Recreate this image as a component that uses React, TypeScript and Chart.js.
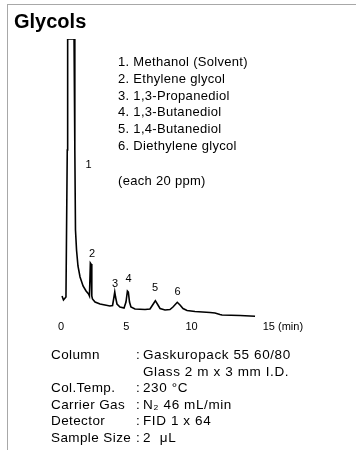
import React, { useEffect, useRef } from "react";
import { Chart, registerables } from "chart.js";

Chart.register(...registerables);

// Retention time (min) and detector signal (arbitrary units)
const timeMin = [
  0.08, 0.19, 0.38, 0.48, 0.51, 1.0, 1.06, 1.11, 1.19, 1.3, 1.46, 1.69, 1.92, 2.11, 2.18,
  2.25, 2.3, 2.36, 2.41, 2.61, 2.99, 3.37, 3.75, 3.95, 4.06, 4.12, 4.18, 4.29, 4.52, 4.83,
  4.98, 5.09, 5.16, 5.25, 5.36, 5.67, 6.44, 6.82, 6.97, 7.23, 7.43, 7.59, 7.97, 8.35, 8.58,
  8.91, 9.12, 9.35, 9.66, 10.27, 11.42, 11.8, 12.18, 12.34, 13.72, 14.87,
];
const signal = [
  24, 20, 23, 170, 281, 281, 170, 90, 70, 54, 43, 34, 29, 26, 24,
  57, 56, 24, 21, 18, 16, 15, 14, 14.5, 23, 28, 23, 16, 13, 12,
  18, 29, 28, 18, 13, 11, 10.5, 11, 14, 19.3, 15, 11.5, 10, 10.5, 13,
  17.7, 15, 11.5, 9.5, 8.5, 7.5, 7, 5.5, 5, 4.5, 3.7,
];

const peakNumbers = ["1", "2", "3", "4", "5", "6"];
const peakLabelTime = [2.12, 2.38, 4.14, 5.17, 7.2, 8.93];
const peakLabelSignal = [155, 66, 36, 41, 32, 28];

const compoundNames = [
  "1. Methanol (Solvent)",
  "2. Ethylene glycol",
  "3. 1,3-Propanediol",
  "4. 1,3-Butanediol",
  "5. 1,4-Butanediol",
  "6. Diethylene glycol",
];
const concentrationNote = "(each 20 ppm)";

const xTickValues = [0, 5, 10, 15];
const xTickLabels = ["0", "5", "10", "15 (min)"];

const conditionLabels = ["Column", "", "Col.Temp.", "Carrier Gas", "Detector", "Sample Size"];
const conditionColons = [":", "", ":", ":", ":", ":"];
const conditionValues = [
  "Gaskuropack 55 60/80",
  "Glass 2 m x 3 mm I.D.",
  "230 °C",
  "N₂ 46 mL/min",
  "FID 1 x 64",
  "2  μL",
];

const FONT = "'Liberation Sans', Arial, Helvetica, sans-serif";

const labelPlugin = {
  id: "chromLabels",
  afterDraw(chart: any) {
    const ctx = chart.ctx;
    const xs = chart.scales.x;
    const ys = chart.scales.y;
    ctx.save();
    ctx.fillStyle = "#000";
    ctx.font = `11px ${FONT}`;
    ctx.textBaseline = "middle";
    ctx.textAlign = "center";
    peakNumbers.forEach((n, i) => {
      ctx.fillText(n, xs.getPixelForValue(peakLabelTime[i]), ys.getPixelForValue(peakLabelSignal[i]));
    });
    const tickY = ys.bottom + 7;
    xTickValues.forEach((v, i) => {
      const px = xs.getPixelForValue(v);
      if (i === xTickValues.length - 1) {
        ctx.textAlign = "left";
        ctx.fillText(xTickLabels[i], px + 6, tickY);
      } else {
        ctx.textAlign = "center";
        ctx.fillText(xTickLabels[i], px, tickY);
      }
    });
    ctx.restore();
  },
};

export default function App() {
  const canvasRef = useRef<HTMLCanvasElement>(null);

  useEffect(() => {
    if (!canvasRef.current) return;
    const chart = new Chart(canvasRef.current, {
      type: "line",
      data: {
        datasets: [
          {
            data: timeMin.map((t, i) => ({ x: t, y: signal[i] })),
            borderColor: "#000",
            borderWidth: 1.6,
            pointRadius: 0,
            tension: 0,
            fill: false,
          },
        ],
      },
      options: {
        responsive: false,
        animation: false,
        layout: { padding: { left: 61, top: 39, right: 99.25, bottom: 130 } },
        plugins: { legend: { display: false }, tooltip: { enabled: false }, title: { display: false } },
        scales: {
          x: { type: "linear", min: 0, max: 15, display: false },
          y: { type: "linear", min: 0, max: 281, display: false },
        },
      },
      plugins: [labelPlugin],
    });
    return () => chart.destroy();
  }, []);

  return (
    <div
      style={{
        position: "fixed",
        left: 0,
        top: 0,
        width: 356,
        height: 450,
        background: "#fff",
        overflow: "hidden",
        fontFamily: FONT,
        color: "#000",
      }}
    >
      <div
        style={{
          position: "absolute",
          left: 7,
          top: 4,
          right: 0,
          bottom: 0,
          borderLeft: "1px solid #a8a8a8",
          borderTop: "1px solid #a8a8a8",
        }}
      />
      <canvas ref={canvasRef} width={356} height={450} style={{ position: "absolute", left: 0, top: 0 }} />
      <div style={{ position: "absolute", left: 14, top: 9, fontSize: 20, fontWeight: "bold", lineHeight: "24px" }}>
        Glycols
      </div>
      <div
        style={{ position: "absolute", left: 118, top: 54, fontSize: 13, lineHeight: "16.8px", letterSpacing: 0.3 }}
      >
        {compoundNames.map((n) => (
          <div key={n}>{n}</div>
        ))}
        <div style={{ marginTop: 18 }}>{concentrationNote}</div>
      </div>
      <div style={{ position: "absolute", left: 51, top: 347, fontSize: 13.5, lineHeight: "16.5px" }}>
        {conditionLabels.map((l, i) => (
          <div key={i} style={{ position: "relative", height: 16.5 }}>
            <span style={{ position: "absolute", left: 0, whiteSpace: "pre", letterSpacing: 0.4 }}>{l}</span>
            <span style={{ position: "absolute", left: 85, whiteSpace: "pre" }}>{conditionColons[i]}</span>
            <span style={{ position: "absolute", left: 92, whiteSpace: "pre", letterSpacing: 0.6 }}>
              {conditionValues[i]}
            </span>
          </div>
        ))}
      </div>
    </div>
  );
}
